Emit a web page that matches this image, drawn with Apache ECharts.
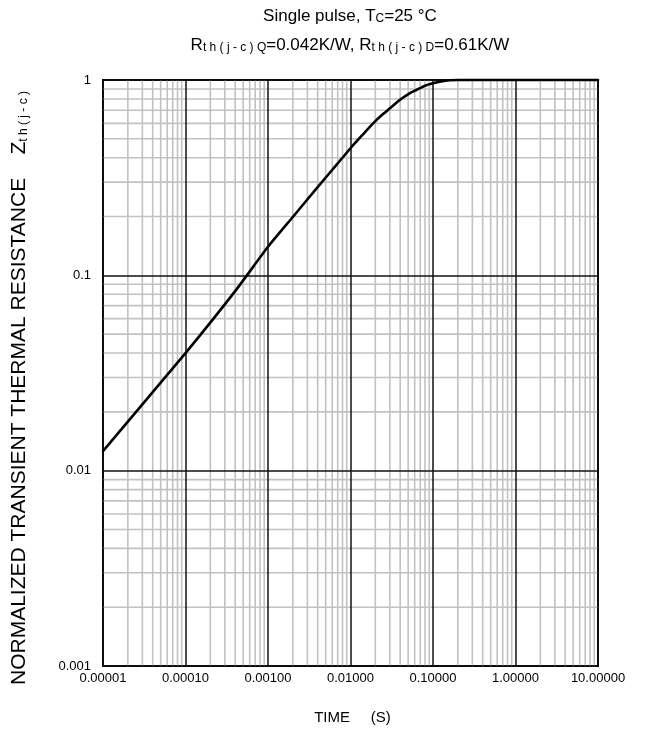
<!DOCTYPE html>
<html>
<head>
<meta charset="utf-8">
<script src="https://cdn.jsdelivr.net/npm/echarts@6/dist/echarts.min.js"></script>
<style>
  html, body { margin: 0; padding: 0; background: #fff; }
  #chart { width: 646px; height: 734px; }
</style>
</head>
<body>
<div id="chart"></div>
<script>
// Transient thermal impedance curve, single pulse (time in s, normalized Zth)
var timeS = [1e-5, 1e-4, 4e-4, 1e-3, 2e-3, 4e-3, 7e-3, 1.03e-2, 1.4e-2, 1.88e-2, 2.4e-2, 3e-2, 3.95e-2, 5.2e-2, 6.3e-2, 8e-2, 0.1, 0.125, 0.16, 0.2, 10];
var zthNorm = [0.0126, 0.040, 0.083, 0.140, 0.199, 0.283, 0.374, 0.454, 0.524, 0.600, 0.662, 0.716, 0.790, 0.855, 0.889, 0.935, 0.962, 0.983, 0.997, 1, 1];

// Decade tick labels
var xTickLabels = ['0.00001', '0.00010', '0.00100', '0.01000', '0.10000', '1.00000', '10.00000'];
var xTickExp = [-5, -4, -3, -2, -1, 0, 1];
var yTickLabels = ['0.001', '0.01', '0.1', '1'];
var yTickExp = [-3, -2, -1, 0];

var FONT = '"Liberation Sans", Arial, Helvetica, sans-serif';
var X_MIN = 1e-5, X_MAX = 10, Y_MIN = 0.001, Y_MAX = 1;

function labelFor(labels, exps) {
  return function (v) {
    var e = Math.round(Math.log10(v));
    var i = exps.indexOf(e);
    return i >= 0 ? labels[i] : '';
  };
}

// Light minor grid lines at 2..9 inside each decade, drawn as two-point line series
var minorStyle = { color: '#c2c2c2', width: 1.6 };
function gridSeries(points) {
  return {
    type: 'line', data: points, z: 1, silent: true,
    showSymbol: false, symbol: 'none', clip: true,
    lineStyle: minorStyle, emphasis: { disabled: true }, tooltip: { show: false }
  };
}
var minorSeries = [];
xTickExp.slice(0, -1).forEach(function (e) {
  for (var k = 2; k <= 9; k++) {
    var v = k * Math.pow(10, e);
    minorSeries.push(gridSeries([[v, Y_MIN], [v, Y_MAX]]));
  }
});
yTickExp.slice(0, -1).forEach(function (e) {
  for (var k = 2; k <= 9; k++) {
    var v = k * Math.pow(10, e);
    minorSeries.push(gridSeries([[X_MIN, v], [X_MAX, v]]));
  }
});

var chart = echarts.init(document.getElementById('chart'), null, { renderer: 'canvas' });

var subStyle = { fontSize: 12, fontFamily: FONT, fill: '#000', verticalAlign: 'bottom', padding: [4, 0, 0, 0] };

chart.setOption({
  animation: false,
  backgroundColor: '#fff',
  grid: {
    left: 103, top: 80, right: 48, bottom: 68,
    show: true, borderColor: '#000', borderWidth: 2, backgroundColor: 'transparent',
    containLabel: false
  },
  xAxis: {
    type: 'log', logBase: 10, min: X_MIN, max: X_MAX, interval: 1,
    z: 2,
    axisLine: { show: false },
    axisTick: { show: false },
    splitLine: { show: true, lineStyle: { color: '#111', width: 1.5 } },
    axisLabel: {
      formatter: labelFor(xTickLabels, xTickExp),
      color: '#000', fontFamily: FONT, fontSize: 13, margin: 6, showMinLabel: true, showMaxLabel: true
    },
    name: 'TIME     (S)',
    nameLocation: 'middle', nameGap: 44,
    nameTextStyle: { color: '#000', fontFamily: FONT, fontSize: 15, padding: [0, 0, 0, 4] }
  },
  yAxis: {
    type: 'log', logBase: 10, min: Y_MIN, max: Y_MAX, interval: 1,
    z: 2,
    axisLine: { show: false },
    axisTick: { show: false },
    splitLine: { show: true, lineStyle: { color: '#111', width: 1.5 } },
    axisLabel: {
      formatter: labelFor(yTickLabels, yTickExp),
      color: '#000', fontFamily: FONT, fontSize: 13, margin: 12, showMinLabel: true, showMaxLabel: true
    }
  },
  series: minorSeries.concat([
    {
      name: 'Zth',
      type: 'line',
      z: 5,
      data: timeS.map(function (t, i) { return [t, zthNorm[i]]; }),
      smooth: 0.2,
      showSymbol: false,
      symbol: 'none',
      clip: false,
      lineStyle: { color: '#000', width: 2.6, join: 'round', cap: 'round' }
    }
  ]),
  graphic: [
    {
      type: 'text', x: 350, y: 16,
      style: {
        text: 'Single pulse, T{s|C}=25 °C',
        fill: '#000', font: '17px ' + FONT,
        align: 'center', verticalAlign: 'middle',
        rich: { s: subStyle }
      }
    },
    {
      type: 'text', x: 350, y: 45,
      style: {
        text: 'R{s|t h ( j - c ) Q}=0.042K/W, R{s|t h ( j - c ) D}=0.61K/W',
        fill: '#000', font: '17px ' + FONT,
        align: 'center', verticalAlign: 'middle',
        rich: { s: subStyle }
      }
    },
    {
      type: 'text', x: 19, y: 388, rotation: Math.PI / 2,
      style: {
        text: 'NORMALIZED TRANSIENT THERMAL RESISTANCE    Z{s|t h ( j - c )}',
        fill: '#000', font: '21px ' + FONT,
        align: 'center', verticalAlign: 'middle',
        rich: { s: { fontSize: 12, fontFamily: FONT, fill: '#000', verticalAlign: 'bottom', padding: [5, 0, 0, 0] } }
      }
    }
  ]
});
</script>
</body>
</html>
